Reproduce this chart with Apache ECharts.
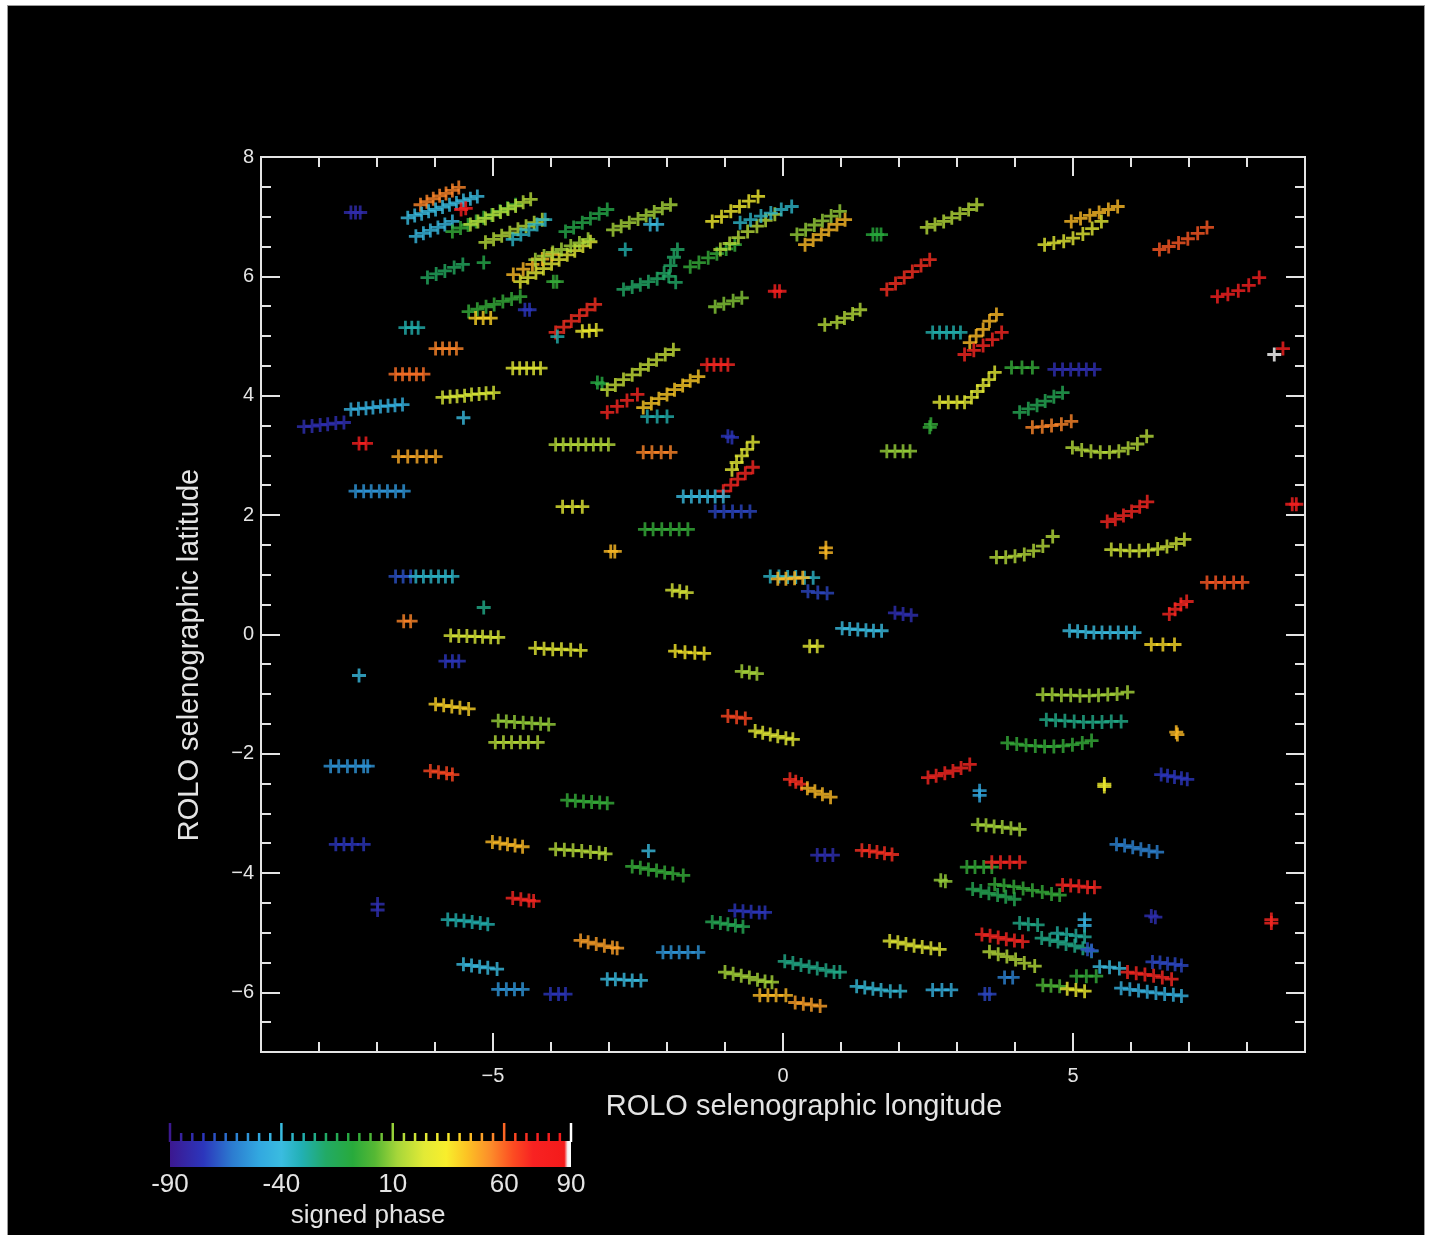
<!DOCTYPE html>
<html>
<head>
<meta charset="utf-8">
<script src="https://cdn.jsdelivr.net/npm/echarts@6/dist/echarts.min.js"></script>
<style>
  html, body { margin: 0; padding: 0; background: #fff; }
  #frame { position: absolute; left: 7px; top: 5px; width: 1416px; height: 1232px; background: #000; border: 1px solid #9a9a9a; }
  #chart { position: absolute; left: 0; top: 0; width: 1429px; height: 1235px; }
</style>
</head>
<body>
<div id="frame"></div>
<div id="chart"></div>
<script>
// each track: [signed phase, x0, y0, x1, y1, ...] in selenographic degrees
const northTracks = [
  [-80, -7.45,7.07, -7.37,7.07, -7.29,7.07],
  [55, -6.25,7.20, -6.14,7.25, -6.03,7.30, -5.92,7.35, -5.81,7.39, -5.70,7.44, -5.59,7.49],
  [-40, -6.47,6.98, -6.35,7.02, -6.23,7.05, -6.11,7.09, -5.99,7.12, -5.87,7.16, -5.75,7.20, -5.63,7.23, -5.51,7.27, -5.39,7.30, -5.27,7.34],
  [-42, -6.33,6.67, -6.20,6.72, -6.08,6.77, -5.95,6.82, -5.83,6.87, -5.70,6.92],
  [75, -5.55,7.12, -5.47,7.14],
  [-5, -5.70,6.75, -5.56,6.81, -5.43,6.86, -5.29,6.92, -5.16,6.98, -5.02,7.03, -4.88,7.09, -4.75,7.14, -4.61,7.20],
  [15, -5.39,6.87, -5.26,6.92, -5.13,6.97, -5.00,7.03, -4.87,7.08, -4.74,7.13, -4.61,7.18, -4.48,7.24, -4.35,7.29],
  [15, -5.13,6.57, -4.99,6.62, -4.85,6.68, -4.71,6.73, -4.57,6.79, -4.43,6.84, -4.29,6.90, -4.15,6.95],
  [-35, -4.66,6.62, -4.52,6.70, -4.38,6.78, -4.24,6.87, -4.10,6.95],
  [-12, -3.75,6.75, -3.61,6.82, -3.46,6.90, -3.32,6.97, -3.17,7.05, -3.03,7.12],
  [-18, -6.13,5.98, -5.98,6.04, -5.83,6.09, -5.67,6.15, -5.52,6.20],
  [-12, -5.16,6.23],
  [25, -4.53,5.91, -4.40,5.98, -4.26,6.06, -4.13,6.13, -3.99,6.21, -3.86,6.28, -3.72,6.36, -3.59,6.43, -3.45,6.51, -3.32,6.58],
  [45, -4.65,6.03, -4.48,6.12, -4.32,6.20, -4.15,6.29, -3.98,6.37],
  [12, -4.27,6.28, -4.12,6.34, -3.97,6.40, -3.82,6.45, -3.66,6.51, -3.51,6.56, -3.36,6.62],
  [-5, -3.96,5.91, -3.90,5.91],
  [-5, -5.42,5.41, -5.27,5.45, -5.12,5.49, -4.98,5.53, -4.83,5.58, -4.68,5.62, -4.53,5.66],
  [40, -5.30,5.30, -5.17,5.30, -5.04,5.30],
  [-75, -4.45,5.44, -4.37,5.44],
  [70, -3.92,5.06, -3.78,5.15, -3.65,5.25, -3.51,5.34, -3.38,5.44, -3.24,5.53],
  [30, -3.46,5.08, -3.34,5.09, -3.22,5.10],
  [-30, -3.89,4.99],
  [-30, -6.51,5.14, -6.40,5.14, -6.29,5.14],
  [55, -5.99,4.79, -5.87,4.79, -5.75,4.79, -5.63,4.79],
  [58, -6.68,4.36, -6.56,4.36, -6.44,4.36, -6.32,4.36, -6.20,4.36],
  [25, -4.66,4.46, -4.54,4.46, -4.42,4.46, -4.30,4.46, -4.18,4.46],
  [22, -5.87,3.97, -5.74,3.98, -5.62,3.99, -5.49,4.00, -5.37,4.02, -5.24,4.03, -5.12,4.04, -4.99,4.05],
  [-45, -7.45,3.77, -7.32,3.78, -7.19,3.79, -7.07,3.80, -6.94,3.82, -6.81,3.83, -6.69,3.84, -6.56,3.85],
  [-78, -8.26,3.48, -8.12,3.49, -7.98,3.51, -7.85,3.52, -7.71,3.54, -7.57,3.55],
  [-40, -5.51,3.63],
  [75, -7.31,3.20, -7.19,3.20],
  [15, -3.92,3.18, -3.79,3.18, -3.66,3.18, -3.53,3.18, -3.40,3.18, -3.27,3.18, -3.14,3.18, -3.01,3.18],
  [48, -6.63,2.98, -6.47,2.98, -6.31,2.98, -6.15,2.98, -5.99,2.98],
  [-10, -3.20,4.22, -3.12,4.20],
  [12, -2.93,6.78, -2.79,6.84, -2.65,6.90, -2.50,6.96, -2.36,7.02, -2.22,7.08, -2.08,7.14, -1.94,7.20],
  [-40, -2.29,6.87, -2.17,6.87],
  [-30, -2.72,6.45],
  [-20, -2.75,5.78, -2.60,5.82, -2.46,5.86, -2.32,5.91, -2.17,5.96, -2.05,6.05, -1.94,6.18, -1.88,6.32, -1.82,6.45, -1.85,5.90, -1.97,6.00],
  [-5, -1.60,6.16, -1.45,6.23, -1.29,6.31, -1.14,6.38, -0.98,6.46, -0.83,6.53],
  [15, -1.08,6.45, -0.92,6.55, -0.77,6.65, -0.61,6.75, -0.45,6.84, -0.30,6.94, -0.14,7.04],
  [32, -1.22,6.92, -1.06,7.00, -0.90,7.09, -0.75,7.17, -0.59,7.26, -0.43,7.34],
  [-35, -0.74,6.90, -0.56,6.95, -0.38,7.01, -0.21,7.06, -0.03,7.12, 0.15,7.17],
  [10, 0.24,6.70, 0.39,6.78, 0.54,6.86, 0.68,6.93, 0.83,7.01, 0.98,7.09],
  [45, 0.38,6.53, 0.52,6.61, 0.66,6.70, 0.79,6.78, 0.93,6.87, 1.07,6.95],
  [-8, 1.55,6.70, 1.62,6.70, 1.69,6.70],
  [15, 2.48,6.82, 2.62,6.87, 2.77,6.92, 2.91,6.98, 3.05,7.05, 3.20,7.12, 3.34,7.20],
  [75, -0.14,5.75, -0.06,5.75],
  [8, -1.17,5.49, -1.02,5.54, -0.86,5.59, -0.71,5.64],
  [70, 1.79,5.78, 1.94,5.88, 2.09,5.98, 2.23,6.08, 2.38,6.18, 2.53,6.28],
  [15, 0.93,5.23, 1.06,5.30, 1.20,5.37, 1.33,5.44],
  [15, 0.72,5.19],
  [-30, 2.58,5.06, 2.70,5.06, 2.82,5.06, 2.94,5.06, 3.06,5.06],
  [72, -1.31,4.52, -1.19,4.52, -1.07,4.52, -0.95,4.52],
  [18, -3.03,4.10, -2.89,4.18, -2.75,4.27, -2.60,4.35, -2.46,4.44, -2.32,4.52, -2.18,4.60, -2.03,4.69, -1.89,4.77],
  [42, -2.41,3.80, -2.27,3.87, -2.14,3.95, -2.00,4.02, -1.87,4.10, -1.73,4.17, -1.60,4.25, -1.46,4.32],
  [72, -3.03,3.72, -2.86,3.82, -2.69,3.92, -2.51,4.02],
  [-30, -2.34,3.65, -2.17,3.65, -2.00,3.65],
  [-75, -0.95,3.32, -0.88,3.30],
  [25, -0.88,2.76, -0.80,2.88, -0.71,2.99, -0.62,3.10, -0.52,3.22],
  [55, -2.41,3.05, -2.26,3.05, -2.10,3.05, -1.94,3.05],
  [25, 2.70,3.89, 2.85,3.89, 3.00,3.89, 3.13,3.89],
  [25, 3.25,3.97, 3.35,4.07, 3.45,4.17, 3.55,4.27, 3.65,4.39],
  [-5, 2.53,3.47, 2.55,3.52],
  [10, 1.79,3.07, 1.93,3.07, 2.07,3.07, 2.19,3.07],
  [45, 4.97,6.92, 5.13,6.97, 5.29,7.02, 5.45,7.07, 5.61,7.12, 5.77,7.17],
  [25, 4.51,6.53, 4.67,6.56, 4.84,6.59, 5.00,6.64, 5.17,6.71, 5.33,6.80, 5.49,6.92],
  [62, 6.49,6.45, 6.65,6.50, 6.82,6.56, 6.98,6.63, 7.15,6.72, 7.31,6.82],
  [75, 7.49,5.66, 7.67,5.70, 7.85,5.76, 8.03,5.85, 8.21,5.98],
  [45, 3.22,4.89, 3.33,5.00, 3.45,5.11, 3.56,5.25, 3.68,5.36],
  [72, 3.13,4.69, 3.29,4.76, 3.45,4.84, 3.61,4.94, 3.77,5.06],
  [75, 8.62,4.79],
  [90, 8.47,4.69],
  [-5, 3.94,4.47, 4.12,4.47, 4.30,4.47],
  [-78, 4.68,4.44, 4.82,4.44, 4.96,4.44, 5.10,4.44, 5.23,4.44, 5.37,4.44],
  [-15, 4.08,3.72, 4.23,3.78, 4.38,3.84, 4.52,3.91, 4.67,3.98, 4.82,4.05],
  [55, 4.30,3.47, 4.47,3.48, 4.63,3.50, 4.80,3.52, 4.97,3.57],
  [15, 4.99,3.13, 5.15,3.09, 5.31,3.07, 5.47,3.05, 5.63,3.05, 5.79,3.07, 5.95,3.12, 6.11,3.19, 6.27,3.32]
];

const equatorTracks = [
  [-55, -7.37,2.40, -7.23,2.40, -7.10,2.40, -6.96,2.40, -6.82,2.40, -6.68,2.40, -6.54,2.40],
  [25, -3.80,2.14, -3.63,2.14, -3.46,2.14],
  [45, -2.97,1.39, -2.90,1.39],
  [-70, -6.68,0.97, -6.55,0.97, -6.42,0.97],
  [-35, -6.33,0.97, -6.20,0.97, -6.07,0.97, -5.94,0.97, -5.82,0.97, -5.70,0.97],
  [-25, -5.16,0.45],
  [55, -6.54,0.22, -6.42,0.22],
  [22, -5.73,-0.02, -5.59,-0.03, -5.45,-0.03, -5.31,-0.04, -5.18,-0.04, -5.04,-0.05, -4.91,-0.05],
  [25, -4.27,-0.23, -4.12,-0.24, -3.97,-0.25, -3.82,-0.25, -3.66,-0.26, -3.49,-0.27],
  [-75, -5.82,-0.45, -5.70,-0.45, -5.59,-0.45],
  [-40, -7.31,-0.69],
  [40, -5.99,-1.17, -5.85,-1.19, -5.71,-1.21, -5.57,-1.23, -5.42,-1.25],
  [10, -4.91,-1.45, -4.77,-1.46, -4.63,-1.47, -4.48,-1.48, -4.33,-1.49, -4.18,-1.50, -4.04,-1.51],
  [15, -4.96,-1.81, -4.82,-1.81, -4.68,-1.81, -4.53,-1.81, -4.39,-1.81, -4.23,-1.81],
  [72, -1.03,2.40, -0.90,2.50, -0.78,2.60, -0.65,2.70, -0.52,2.80],
  [-40, -1.72,2.31, -1.58,2.31, -1.44,2.31, -1.30,2.31, -1.17,2.31, -1.03,2.31],
  [-72, -1.17,2.06, -1.02,2.06, -0.87,2.06, -0.72,2.06, -0.57,2.06],
  [-5, -2.38,1.76, -2.24,1.76, -2.09,1.76, -1.94,1.76, -1.79,1.76, -1.64,1.76],
  [22, -1.91,0.74, -1.78,0.72, -1.66,0.70],
  [45, 0.74,1.37, 0.74,1.45],
  [-35, -0.22,0.97, -0.07,0.97, 0.08,0.96, 0.22,0.96, 0.37,0.95, 0.52,0.95],
  [45, -0.09,0.93, 0.05,0.93, 0.20,0.94, 0.34,0.95],
  [-72, 0.43,0.72, 0.60,0.70, 0.76,0.69],
  [-78, 1.93,0.36, 2.07,0.34, 2.21,0.32],
  [-40, 1.02,0.10, 1.15,0.09, 1.29,0.08, 1.43,0.07, 1.56,0.06, 1.70,0.06],
  [25, 0.46,-0.20, 0.59,-0.20],
  [35, -1.86,-0.28, -1.69,-0.30, -1.52,-0.31, -1.36,-0.32],
  [12, -0.71,-0.62, -0.58,-0.64, -0.45,-0.66],
  [65, -0.95,-1.37, -0.80,-1.39, -0.65,-1.41],
  [25, -0.48,-1.62, -0.35,-1.65, -0.22,-1.68, -0.09,-1.71, 0.05,-1.74, 0.17,-1.76],
  [75, 8.78,2.18, 8.85,2.18],
  [72, 5.59,1.89, 5.73,1.93, 5.87,1.99, 6.01,2.06, 6.15,2.14, 6.28,2.22],
  [15, 3.68,1.29, 3.84,1.29, 4.00,1.31, 4.16,1.34, 4.32,1.40, 4.48,1.48, 4.65,1.64],
  [20, 5.66,1.42, 5.82,1.41, 5.98,1.40, 6.14,1.40, 6.30,1.41, 6.46,1.43, 6.62,1.47, 6.78,1.52, 6.92,1.59],
  [62, 7.31,0.87, 7.46,0.87, 7.61,0.87, 7.77,0.87, 7.92,0.87],
  [72, 6.66,0.34, 6.76,0.42, 6.86,0.50, 6.96,0.55],
  [-40, 4.94,0.06, 5.08,0.05, 5.22,0.04, 5.36,0.03, 5.50,0.03, 5.64,0.03, 5.78,0.03, 5.92,0.03, 6.06,0.03],
  [38, 6.35,-0.17, 6.55,-0.17, 6.75,-0.17],
  [12, 4.48,-1.01, 4.64,-1.01, 4.80,-1.02, 4.96,-1.02, 5.12,-1.03, 5.28,-1.03, 5.44,-1.02, 5.60,-1.01, 5.76,-1.00, 5.94,-0.97],
  [-25, 4.54,-1.43, 4.70,-1.44, 4.86,-1.45, 5.02,-1.46, 5.18,-1.47, 5.34,-1.47, 5.50,-1.47, 5.66,-1.46, 5.83,-1.46],
  [45, 6.78,-1.64, 6.80,-1.68],
  [-5, 3.87,-1.82, 4.03,-1.84, 4.19,-1.86, 4.35,-1.87, 4.51,-1.88, 4.67,-1.88, 4.83,-1.87, 4.99,-1.85, 5.16,-1.82, 5.32,-1.78]
];

const southTracks = [
  [-55, -7.80,-2.21, -7.66,-2.21, -7.51,-2.21, -7.37,-2.21, -7.23,-2.21, -7.16,-2.21],
  [65, -6.08,-2.29, -5.94,-2.31, -5.80,-2.33, -5.70,-2.35],
  [-5, -3.72,-2.78, -3.58,-2.79, -3.44,-2.80, -3.30,-2.81, -3.16,-2.82, -3.03,-2.83],
  [-75, -7.71,-3.52, -7.57,-3.52, -7.43,-3.52, -7.23,-3.52],
  [45, -5.01,-3.48, -4.88,-3.50, -4.75,-3.52, -4.62,-3.54, -4.49,-3.56],
  [15, -3.92,-3.60, -3.77,-3.61, -3.62,-3.62, -3.47,-3.63, -3.32,-3.65, -3.17,-3.66, -3.06,-3.68],
  [72, -4.66,-4.42, -4.52,-4.44, -4.38,-4.46, -4.30,-4.47],
  [-78, -6.99,-4.52, -6.99,-4.62],
  [-30, -5.78,-4.78, -5.64,-4.79, -5.50,-4.80, -5.36,-4.82, -5.22,-4.84, -5.09,-4.86],
  [50, -3.49,-5.13, -3.36,-5.16, -3.22,-5.19, -3.08,-5.22, -2.94,-5.25, -2.86,-5.26],
  [-40, -5.51,-5.53, -5.37,-5.55, -5.23,-5.57, -5.09,-5.59, -4.93,-5.61],
  [-55, -4.91,-5.95, -4.77,-5.95, -4.63,-5.95, -4.49,-5.95],
  [-75, -4.01,-6.03, -3.87,-6.03, -3.75,-6.03],
  [-40, -3.03,-5.78, -2.89,-5.78, -2.74,-5.79, -2.60,-5.80, -2.45,-5.80],
  [70, 0.12,-2.43, 0.22,-2.47, 0.32,-2.51],
  [45, 0.42,-2.58, 0.55,-2.63, 0.68,-2.68, 0.82,-2.73],
  [72, 2.50,-2.40, 2.64,-2.37, 2.79,-2.33, 2.93,-2.29, 3.07,-2.24, 3.22,-2.18],
  [-40, -2.32,-3.63],
  [-5, -2.60,-3.89, -2.46,-3.91, -2.32,-3.94, -2.18,-3.96, -2.04,-3.99, -1.90,-4.01, -1.72,-4.04],
  [-78, 0.59,-3.70, 0.72,-3.70, 0.86,-3.70],
  [70, 1.36,-3.62, 1.49,-3.63, 1.62,-3.65, 1.75,-3.67, 1.88,-3.69],
  [10, 2.72,-4.12, 2.80,-4.14],
  [-75, -0.83,-4.63, -0.69,-4.64, -0.55,-4.65, -0.41,-4.66, -0.31,-4.66],
  [-15, -1.22,-4.82, -1.08,-4.84, -0.95,-4.86, -0.82,-4.88, -0.69,-4.90],
  [-55, -2.07,-5.33, -1.93,-5.33, -1.79,-5.33, -1.64,-5.33, -1.46,-5.33],
  [25, 1.84,-5.14, 1.98,-5.16, 2.12,-5.19, 2.26,-5.22, 2.40,-5.24, 2.55,-5.26, 2.70,-5.28],
  [-25, 0.03,-5.48, 0.17,-5.51, 0.31,-5.54, 0.45,-5.57, 0.59,-5.60, 0.74,-5.63, 0.88,-5.66, 0.98,-5.66],
  [12, -1.00,-5.66, -0.86,-5.69, -0.72,-5.72, -0.58,-5.75, -0.44,-5.79, -0.31,-5.82, -0.19,-5.83],
  [45, -0.40,-6.05, -0.26,-6.05, -0.12,-6.05, 0.05,-6.05],
  [50, 0.21,-6.17, 0.35,-6.19, 0.49,-6.21, 0.64,-6.23],
  [-38, 1.27,-5.90, 1.41,-5.92, 1.55,-5.94, 1.69,-5.96, 1.85,-5.98, 2.02,-5.98],
  [-45, 2.58,-5.96, 2.74,-5.96, 2.90,-5.96],
  [-75, 6.52,-2.35, 6.63,-2.37, 6.75,-2.39, 6.87,-2.41, 6.97,-2.43],
  [30, 5.54,-2.51, 5.54,-2.55],
  [-50, 3.39,-2.70, 3.39,-2.62],
  [12, 3.36,-3.19, 3.50,-3.20, 3.64,-3.22, 3.78,-3.23, 3.93,-3.25, 4.08,-3.27],
  [-60, 5.75,-3.52, 5.89,-3.54, 6.03,-3.57, 6.17,-3.60, 6.31,-3.63, 6.45,-3.65],
  [-5, 3.17,-3.90, 3.31,-3.90, 3.46,-3.90, 3.60,-3.90],
  [72, 3.60,-3.82, 3.75,-3.82, 3.91,-3.82, 4.08,-3.82],
  [-15, 3.27,-4.27, 3.41,-4.30, 3.55,-4.34, 3.70,-4.37, 3.84,-4.40, 3.99,-4.44],
  [-5, 3.65,-4.19, 3.81,-4.21, 3.98,-4.23, 4.14,-4.26, 4.30,-4.29, 4.47,-4.32, 4.63,-4.35, 4.77,-4.37],
  [72, 4.82,-4.20, 4.96,-4.21, 5.10,-4.22, 5.25,-4.24, 5.37,-4.24],
  [-78, 6.35,-4.72, 6.42,-4.74],
  [72, 8.42,-4.78, 8.42,-4.84],
  [-45, 5.20,-4.78, 5.20,-4.88],
  [-25, 4.08,-4.84, 4.23,-4.86, 4.39,-4.87],
  [72, 3.43,-5.03, 3.57,-5.05, 3.71,-5.08, 3.85,-5.11, 3.99,-5.13, 4.13,-5.15],
  [-25, 4.46,-5.09, 4.60,-5.12, 4.74,-5.15, 4.88,-5.19, 5.03,-5.22, 5.17,-5.26, 5.32,-5.31],
  [-28, 4.73,-5.01, 4.89,-5.03, 5.05,-5.05, 5.20,-5.07],
  [-70, 5.25,-5.28, 5.32,-5.30],
  [15, 3.56,-5.32, 3.71,-5.36, 3.86,-5.40, 4.01,-5.45, 4.16,-5.51, 4.34,-5.56],
  [-40, 5.46,-5.57, 5.63,-5.58, 5.80,-5.60],
  [-72, 6.37,-5.49, 6.50,-5.50, 6.63,-5.52, 6.76,-5.53, 6.87,-5.55],
  [72, 5.94,-5.66, 6.09,-5.68, 6.24,-5.70, 6.39,-5.72, 6.54,-5.75, 6.70,-5.78],
  [-60, 3.82,-5.75, 3.96,-5.75],
  [-5, 5.06,-5.73, 5.23,-5.73, 5.40,-5.73],
  [0, 4.48,-5.88, 4.62,-5.89, 4.77,-5.90],
  [30, 4.90,-5.94, 5.05,-5.96, 5.20,-5.98],
  [-45, 5.83,-5.93, 5.98,-5.95, 6.13,-5.97, 6.28,-5.99, 6.43,-6.01, 6.58,-6.03, 6.73,-6.04, 6.87,-6.06],
  [-72, 3.48,-6.03, 3.56,-6.03]
];

// tick labels
const lonLabels = [-5, 0, 5];
const latLabels = [-6, -4, -2, 0, 2, 4, 6, 8];
const colorbarLabels = [-90, -40, 10, 60, 90];
const colorbarTicks = [-90, -85, -80, -75, -70, -65, -60, -55, -50, -45, -40, -35, -30, -25, -20, -15, -10, -5,
  0, 5, 10, 15, 20, 25, 30, 35, 40, 45, 50, 55, 60, 65, 70, 75, 80, 85, 90];

// rainbow + white colour table, phase -> colour
const phaseStops = [
  [-90, "#3c1890"], [-75, "#2c36bc"], [-62, "#2c7cd0"], [-50, "#32a8e0"], [-40, "#3abce0"],
  [-31, "#22b0b4"], [-20, "#22aa66"], [-8, "#28aa3c"], [2, "#56b834"], [12, "#a6d63a"],
  [24, "#e2ea36"], [34, "#f8ee2c"], [43, "#fcc424"], [54, "#fc8c2a"], [64, "#fc4c22"],
  [73, "#f82222"], [87, "#f41a1a"], [88.5, "#f4f4f4"], [90, "#ffffff"]
];

function hexRgb(h) { return [1, 3, 5].map((i) => parseInt(h.slice(i, i + 2), 16)); }

function phaseColor(p) {
  for (let i = 1; i < phaseStops.length; i++) {
    const [v1, c1] = phaseStops[i];
    if (p <= v1) {
      const [v0, c0] = phaseStops[i - 1];
      const t = (p - v0) / (v1 - v0);
      const a = hexRgb(c0), b = hexRgb(c1);
      return `rgb(${a.map((x, k) => Math.round(x + (b[k] - x) * t)).join(",")})`;
    }
  }
  return phaseStops[phaseStops.length - 1][1];
}

function points(tracks) {
  const out = [];
  tracks.forEach((t) => {
    for (let i = 1; i < t.length; i += 2) {
      out.push({ value: [t[i], t[i + 1], t[0]], itemStyle: { color: phaseColor(t[0]) } });
    }
  });
  return out;
}

const minus = (v) => String(v).replace("-", "\u2212");
const fg = "#e4e4e4";
const font = "Liberation Sans, Arial, sans-serif";
const plus = "path://M4.8,0h2.4v4.8h4.8v2.4h-4.8v4.8h-2.4v-4.8h-4.8v-2.4h4.8z";

function xAx(position, major, labels) {
  return {
    type: "value", gridIndex: 0, position, min: -9, max: 9, interval: 1,
    axisLine: { show: !major, onZero: false, lineStyle: { color: fg, width: 2 } },
    splitLine: { show: false },
    axisTick: { inside: true, length: major ? 19 : 10, lineStyle: { color: fg, width: 2 }, customValues: major ? lonLabels : undefined },
    axisLabel: labels ? { customValues: lonLabels, formatter: minus, color: fg, fontSize: 20, fontFamily: font, margin: 14 } : { show: false },
  };
}

function yAx(position, major, labels) {
  return {
    type: "value", gridIndex: 0, position, min: -7, max: 8, interval: 0.5,
    axisLine: { show: !major, onZero: false, lineStyle: { color: fg, width: 2 } },
    splitLine: { show: false },
    axisTick: { inside: true, length: major ? 19 : 10, lineStyle: { color: fg, width: 2 }, customValues: major ? latLabels : undefined },
    axisLabel: labels ? { customValues: latLabels, formatter: minus, color: fg, fontSize: 20, fontFamily: font, margin: 7 } : { show: false },
  };
}

const chart = echarts.init(document.getElementById("chart"), null, { renderer: "canvas" });
const scatterBase = { type: "scatter", xAxisIndex: 0, yAxisIndex: 0, symbol: plus, symbolSize: 14, silent: true };

chart.setOption({
  animation: false,
  backgroundColor: "transparent",
  grid: [
    { left: 261, top: 157, width: 1044, height: 895, show: true, borderColor: fg, borderWidth: 2, backgroundColor: "transparent" },
    { left: 170, top: 1141, width: 401, height: 26 },
  ],
  xAxis: [
    xAx("bottom", false, false), xAx("bottom", true, true), xAx("top", false, false), xAx("top", true, false),
    {
      type: "value", gridIndex: 1, min: -90, max: 90,
      axisLine: { show: false }, axisTick: { show: false }, splitLine: { show: false },
      axisLabel: { customValues: colorbarLabels, color: fg, fontSize: 26, fontFamily: font, margin: 5 },
    },
  ],
  yAxis: [
    yAx("left", false, false), yAx("left", true, true), yAx("right", false, false), yAx("right", true, false),
    { type: "value", gridIndex: 1, min: 0, max: 1, show: false },
  ],
  graphic: [
    { type: "text", x: 804, y: 1107, style: { text: "ROLO selenographic longitude", fill: fg, font: `29px ${font}`, textAlign: "center", textVerticalAlign: "middle" } },
    { type: "text", x: 190, y: 655, rotation: Math.PI / 2, style: { text: "ROLO selenographic latitude", fill: fg, font: `29px ${font}`, textAlign: "center", textVerticalAlign: "middle" } },
    { type: "text", x: 368, y: 1216, style: { text: "signed phase", fill: fg, font: `26px ${font}`, textAlign: "center", textVerticalAlign: "middle" } },
  ],
  series: [
    { ...scatterBase, data: points(northTracks) },
    { ...scatterBase, data: points(equatorTracks) },
    { ...scatterBase, data: points(southTracks) },
    {
      type: "custom", xAxisIndex: 4, yAxisIndex: 4, silent: true, clip: false,
      data: [[-90, 90]],
      renderItem: (params, api) => {
        const a = api.coord([api.value(0), 0]);
        const b = api.coord([api.value(1), 1]);
        return {
          type: "rect",
          shape: { x: a[0], y: b[1], width: b[0] - a[0], height: a[1] - b[1] },
          style: { fill: new echarts.graphic.LinearGradient(0, 0, 1, 0, phaseStops.map(([v, c]) => ({ offset: (v + 90) / 180, color: c }))) },
        };
      },
    },
    {
      type: "custom", xAxisIndex: 4, yAxisIndex: 4, silent: true, clip: false,
      data: colorbarTicks.map((v) => [v]),
      renderItem: (params, api) => {
        const v = api.value(0);
        const p = api.coord([v, 1]);
        const len = colorbarLabels.includes(v) ? 18 : 8;
        return { type: "line", shape: { x1: p[0], y1: p[1] + 1, x2: p[0], y2: p[1] - len }, style: { stroke: phaseColor(v), lineWidth: 2.5 } };
      },
    },
  ],
});
</script>
</body>
</html>
